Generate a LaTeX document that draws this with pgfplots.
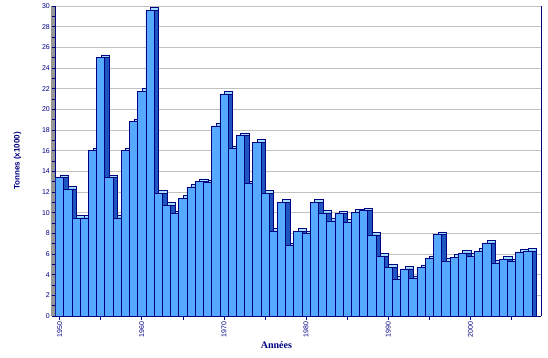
\documentclass[border=0pt]{standalone}
\usepackage{fontspec}
\setmainfont{Liberation Sans}
\newfontfamily\serifb{Liberation Serif}
\usepackage{pgfplots}
\pgfplotsset{compat=1.18}
\usepackage{pgfplotstable}
\definecolor{navy}{RGB}{0,0,128}
\definecolor{frontc}{RGB}{85,170,255}
\definecolor{sidec}{RGB}{30,85,190}
\definecolor{topc}{RGB}{160,225,255}
\definecolor{wallc}{RGB}{150,150,150}
\definecolor{gridc}{RGB}{192,192,192}

\pgfplotstableread{
year v
1950 13.4
1951 12.3
1952 9.5
1953 9.5
1954 16.0
1955 25.0
1956 13.4
1957 9.5
1958 16.0
1959 18.8
1960 21.75
1961 29.6
1962 11.9
1963 10.7
1964 9.9
1965 11.4
1966 12.5
1967 13.0
1968 12.9
1969 18.4
1970 21.5
1971 16.2
1972 17.45
1973 12.8
1974 16.8
1975 11.9
1976 8.2
1977 11.0
1978 6.8
1979 8.2
1980 7.97
1981 11.0
1982 9.97
1983 9.2
1984 9.9
1985 9.07
1986 10.05
1987 10.2
1988 7.85
1989 5.8
1990 4.7
1991 3.55
1992 4.55
1993 3.6
1994 4.68
1995 5.55
1996 7.87
1997 5.3
1998 5.7
1999 6.1
2000 5.8
2001 6.3
2002 7.07
2003 5.13
2004 5.5
2005 5.26
2006 6.2
2007 6.3
}\data

\begin{document}
\begin{tikzpicture}
\begin{axis}[
  at={(55.5pt,42pt)}, anchor=south west,
  scale only axis, width=485.5pt, height=310pt,
  xmin=1949.5, xmax=2008.6, ymin=0, ymax=30,
  set layers, clip mode=individual,
  axis lines=left, axis line style={-, draw=navy, line width=0.9pt},
  xtick={1950,1960,1970,1980,1990,2000},
  xticklabels={1950,1960,1970,1980,1990,2000},
  minor xtick={1955,1965,1975,1985,1995,2005},
  ytick={0,2,...,30},
  minor y tick num=1,
  /pgf/number format/assume math mode=true,
  tick align=outside,
  major tick length=4pt, minor tick length=4pt,
  tick style={draw=navy, line width=0.6pt},
  xticklabel style={rotate=90, anchor=east, font=\fontsize{7}{8}\selectfont, text=navy, inner sep=1.5pt},
  yticklabel style={font=\fontsize{7}{8}\selectfont, text=navy, inner sep=1.5pt},
  ymajorgrids, grid style={draw=gridc, line width=0.7pt},
  xlabel={Années},
  xlabel style={at={(axis description cs:0.455,0)}, anchor=center, yshift=-29pt, font=\serifb\bfseries\fontsize{10}{12}\selectfont, text=navy},
  ylabel={Tonnes (x1000)},
  ylabel style={at={(axis description cs:-0.078,0.5)}, anchor=center, font=\bfseries\fontsize{8}{10}\selectfont, text=navy},
]
\begin{pgfonlayer}{axis background}
\fill[wallc] ([xshift=-4.5pt]rel axis cs:0,0) rectangle (rel axis cs:0,1);
\end{pgfonlayer}
\addplot[ybar, bar width=1, bar shift=4.5pt, yshift=2.7pt, fill=topc, draw=navy, line width=0.5pt] table[x=year,y=v]{\data};
\addplot[ybar, bar width=1, bar shift=4.5pt, fill=sidec, draw=navy, line width=0.5pt] table[x=year,y=v]{\data};
\addplot[ybar, bar width=1, bar shift=0pt, fill=frontc, draw=navy, line width=0.6pt] table[x=year,y=v]{\data};
\draw[navy, line width=0.9pt] (rel axis cs:1,0) -- (rel axis cs:1,1);
\end{axis}
\pgfresetboundingbox
\path[use as bounding box] (0,0) rectangle (548pt,358pt);
\end{tikzpicture}
\end{document}
